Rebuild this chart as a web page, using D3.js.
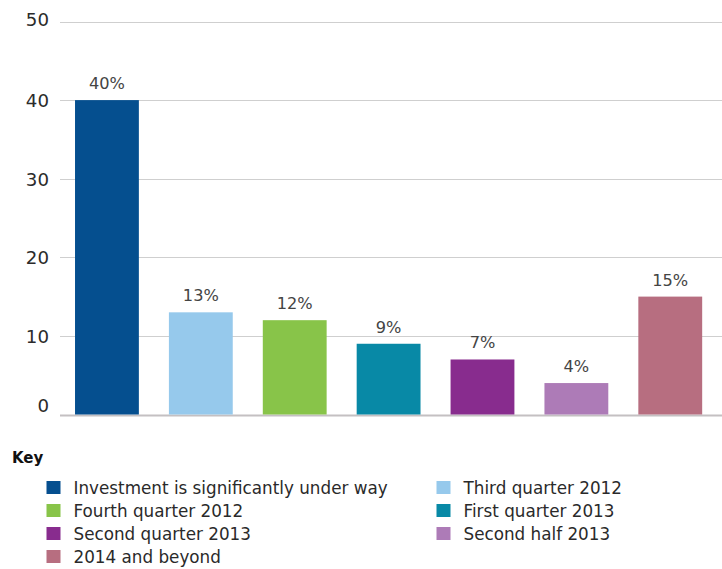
<!DOCTYPE html>
<html>
<head>
<meta charset="utf-8">
<script src="https://cdn.jsdelivr.net/npm/d3@7"></script>
<style>
  html, body { margin: 0; padding: 0; background: #fff; }
  svg { display: block; font-family: "DejaVu Sans", "Liberation Sans", Arial, sans-serif; }
</style>
</head>
<body>
<svg id="chart" width="722" height="569"></svg>
<script>
// Timing of investment: share of respondents per category
const categories = [
  "Investment is significantly under way",
  "Third quarter 2012",
  "Fourth quarter 2012",
  "First quarter 2013",
  "Second quarter 2013",
  "Second half 2013",
  "2014 and beyond"
];
const values = [40, 13, 12, 9, 7, 4, 15];
const colors = ["#054f8f", "#96c9ec", "#88c449", "#0889a6", "#882c8e", "#ad7bb7", "#b76e80"];
const yTicks = [0, 10, 20, 30, 40, 50];
// legend order: two columns, filled row by row
const legendOrder = [0, 1, 2, 3, 4, 5, 6];

const svg = d3.select("#chart");

const x = d3.scaleBand()
  .domain(categories)
  .range([60, 717.2])
  .paddingInner(0.32)
  .paddingOuter(0.16);

const y = d3.scaleLinear()
  .domain([0, 50])
  .range([414.5, 21.5]);

// Gridlines
svg.append("g")
  .selectAll("line")
  .data(yTicks)
  .join("line")
  .attr("x1", 60)
  .attr("x2", 722)
  .attr("y1", d => Math.round(y(d)) + 0.5)
  .attr("y2", d => Math.round(y(d)) + 0.5)
  .attr("stroke", d => d === 0 ? "#c4c0c2" : "#cfcfcf")
  .attr("stroke-width", d => d === 0 ? 2 : 1.2);

// Y axis labels; the end labels are nudged up to sit inside the plot
const yAxis = d3.axisLeft(y).tickValues(yTicks).tickSize(0).tickPadding(0);
const yg = svg.append("g")
  .attr("transform", "translate(49,0)")
  .call(yAxis);
yg.select(".domain").remove();
yg.selectAll("text")
  .attr("font-size", 18.2)
  .attr("fill", "#2b2b2b")
  .attr("font-family", "DejaVu Sans, Liberation Sans, Arial, sans-serif")
  .attr("dy", "0.36em")
  .attr("y", d => d === 0 ? -9.5 : d === 50 ? -2.5 : 0);

// Bars
svg.append("g")
  .selectAll("rect")
  .data(values)
  .join("rect")
  .attr("x", (d, i) => x(categories[i]))
  .attr("width", x.bandwidth())
  .attr("y", d => y(d))
  .attr("height", d => y(0) - y(d))
  .attr("fill", (d, i) => colors[i]);

// Value labels
svg.append("g")
  .selectAll("text")
  .data(values)
  .join("text")
  .attr("x", (d, i) => x(categories[i]) + x.bandwidth() / 2)
  .attr("y", d => y(d) - 11)
  .attr("text-anchor", "middle")
  .attr("font-size", 16.2)
  .attr("fill", "#444")
  .text(d => d + "%");

// Legend
svg.append("text")
  .attr("x", 12)
  .attr("y", 463)
  .attr("font-size", 15)
  .attr("font-weight", "bold")
  .attr("fill", "#111")
  .text("Key");

const colX = [46.5, 436.5];
const rowY0 = 494, rowStep = 23;
const items = svg.append("g")
  .selectAll("g")
  .data(legendOrder)
  .join("g")
  .attr("transform", (d, k) => `translate(${colX[k % 2]},${rowY0 + Math.floor(k / 2) * rowStep})`);

items.append("rect")
  .attr("x", 0)
  .attr("y", -13)
  .attr("width", 14)
  .attr("height", 13)
  .attr("fill", d => colors[d]);

items.append("text")
  .attr("x", 27)
  .attr("y", 0)
  .attr("font-size", 16.8)
  .attr("fill", "#2a2a2a")
  .text(d => categories[d]);
</script>
</body>
</html>
